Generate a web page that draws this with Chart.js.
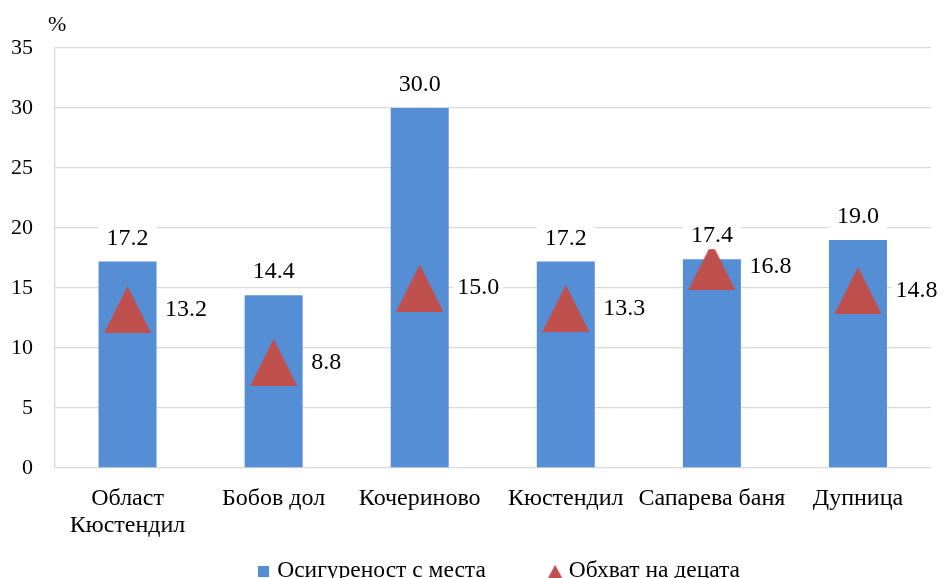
<!DOCTYPE html>
<html lang="bg">
<head>
  <meta charset="UTF-8">
  <title>Осигуреност с места и обхват на децата</title>
  <script src="https://cdn.jsdelivr.net/npm/chart.js"></script>
  <style>
    html, body { margin: 0; padding: 0; background: #fff; }
    .wrap { width: 952px; height: 578px; }
  </style>
</head>
<body>
  <div class="wrap"><canvas id="grafik"></canvas></div>
  <script>
    const categories = [['Област', 'Кюстендил'], 'Бобов дол', 'Кочериново', 'Кюстендил', 'Сапарева баня', 'Дупница'];
    const provision = [17.2, 14.4, 30.0, 17.2, 17.4, 19.0];
    const coverage = [13.2, 8.8, 15.0, 13.3, 16.8, 14.8];
    const yTicks = [0, 5, 10, 15, 20, 25, 30, 35];
    const seriesNames = ['Осигуреност с места', 'Обхват на децата'];
    const unit = '%';

    const barColor = '#558ED5';
    const triColor = '#C0504D';
    const gridColor = '#D9D9D9';
    const serif = '"Liberation Serif", "Times New Roman", serif';

    function triangleImg(w, h) {
      const c = document.createElement('canvas');
      c.width = w; c.height = h;
      const g = c.getContext('2d');
      g.fillStyle = triColor;
      g.beginPath();
      g.moveTo(w / 2, 0);
      g.lineTo(w, h);
      g.lineTo(0, h);
      g.closePath();
      g.fill();
      return c;
    }
    function squareImg(s) {
      const c = document.createElement('canvas');
      c.width = s; c.height = s;
      const g = c.getContext('2d');
      g.fillStyle = barColor;
      g.fillRect(0, 0, s, s);
      return c;
    }
    const bigTri = triangleImg(47, 47);
    const smallTri = triangleImg(14, 13);
    const smallSq = squareImg(11);

    // подписи на стойностите с бял фон + "%" над оста
    const valueLabels = {
      id: 'valueLabels',
      afterDatasetsDraw(chart) {
        const ctx = chart.ctx;
        ctx.save();
        ctx.font = '24px ' + serif;
        ctx.textBaseline = 'middle';
        chart.getDatasetMeta(0).data.forEach((bar, i) => {
          const t = provision[i].toFixed(1);
          const w = ctx.measureText(t).width;
          const cy = bar.y - 23;
          ctx.fillStyle = '#fff';
          ctx.fillRect(bar.x - w / 2 - 8, cy - 13, w + 16, 26);
          ctx.fillStyle = '#000';
          ctx.textAlign = 'center';
          ctx.fillText(t, bar.x, cy);
        });
        chart.getDatasetMeta(1).data.forEach((pt, i) => {
          const t = coverage[i].toFixed(1);
          const w = ctx.measureText(t).width;
          const x = pt.x + 37.5;
          ctx.fillStyle = '#fff';
          ctx.fillRect(x - 4, pt.y - 13, w + 8, 26);
          ctx.fillStyle = '#000';
          ctx.textAlign = 'left';
          ctx.fillText(t, x, pt.y);
        });
        ctx.font = '22px ' + serif;
        ctx.textAlign = 'left';
        ctx.fillText(unit, chart.chartArea.left - 6.5, 25);
        ctx.restore();
      }
    };

    new Chart(document.getElementById('grafik'), {
      data: {
        labels: categories,
        datasets: [{
          type: 'bar',
          label: seriesNames[0],
          data: provision,
          backgroundColor: barColor,
          barPercentage: 0.397,
          categoryPercentage: 1,
          order: 1
        }, {
          type: 'line',
          label: seriesNames[1],
          data: coverage,
          showLine: false,
          pointStyle: bigTri,
          pointRadius: 20,
          order: 0
        }]
      },
      options: {
        responsive: true,
        maintainAspectRatio: false,
        animation: false,
        layout: { padding: { left: 54.5, right: 5, top: 48, bottom: -15 } },
        plugins: {
          tooltip: { enabled: false },
          title: { display: false },
          legend: {
            position: 'bottom',
            labels: {
              usePointStyle: true,
              boxWidth: 4,
              boxHeight: 23.5,
              padding: 67.25,
              color: '#000',
              font: { family: serif, size: 23.5 },
              generateLabels: () => [
                { text: seriesNames[0], pointStyle: smallSq, fillStyle: barColor, strokeStyle: barColor, lineWidth: 0, hidden: false, datasetIndex: 0 },
                { text: seriesNames[1], pointStyle: smallTri, fillStyle: triColor, strokeStyle: triColor, lineWidth: 0, hidden: false, datasetIndex: 1 }
              ]
            }
          }
        },
        scales: {
          x: {
            offset: true,
            grid: { display: false, drawTicks: false },
            border: { display: false },
            ticks: {
              color: '#000',
              font: { family: serif, size: 24, lineHeight: 1.125 },
              mirror: true,
              padding: -44.5,
              maxRotation: 0,
              autoSkip: false
            },
            afterFit: (s) => { s.height = 24.25; }
          },
          y: {
            min: 0,
            max: 35,
            afterBuildTicks: (s) => { s.ticks = yTicks.map(v => ({ value: v })); },
            grid: { color: gridColor, lineWidth: 1.3, drawTicks: false },
            border: { display: true, color: gridColor, width: 1.3 },
            ticks: {
              color: '#000',
              font: { family: serif, size: 22 },
              mirror: true,
              crossAlign: 'far',
              padding: -43.5
            },
            afterFit: (s) => { s.width = 0; }
          }
        }
      },
      plugins: [valueLabels]
    });
  </script>
</body>
</html>
